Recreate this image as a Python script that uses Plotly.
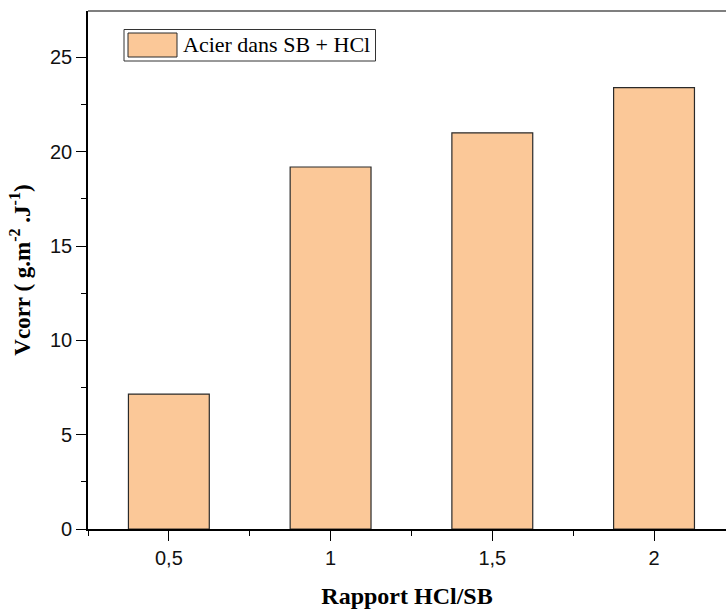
import plotly.graph_objects as go

categories = ["0,5", "1", "1,5", "2"]
vcorr = [7.15, 19.19, 21.0, 23.4]
series_name = "Acier dans SB + HCl"
y_ticks = [0, 5, 10, 15, 20, 25]

x_idx = list(range(len(categories)))

fig = go.Figure()
fig.add_trace(go.Bar(
    x=x_idx, y=vcorr, width=0.5, name=series_name,
    marker=dict(color="#FBC898", line=dict(color="#2a2a2a", width=1.2)),
    showlegend=False,
))

# top frame line (gray)
fig.add_shape(type="line", xref="paper", yref="paper", x0=0, x1=1, y0=1, y1=1,
              line=dict(color="#555", width=1.5))

# custom legend (box, swatch, text)
fig.add_shape(type="rect", xref="paper", yref="paper",
              x0=(124-88)/638, x1=(375.5-88)/638, y0=(529-61)/518, y1=(529-29.5)/518,
              line=dict(color="#333", width=1), fillcolor="white")
fig.add_shape(type="rect", xref="paper", yref="paper",
              x0=(128-88)/638, x1=(177-88)/638, y0=(529-57)/518, y1=(529-33)/518,
              line=dict(color="#2a2a2a", width=1), fillcolor="#FBC898")
fig.add_annotation(xref="paper", yref="paper", x=(181-88)/638, y=(529-45)/518,
                   text=series_name, showarrow=False, xanchor="left", yanchor="middle",
                   font=dict(family="Liberation Serif", size=22, color="black"))

fig.update_layout(
    width=726, height=609,
    margin=dict(l=88, r=0, t=11, b=80),
    plot_bgcolor="white", paper_bgcolor="white",
    font=dict(family="Liberation Sans", size=20, color="black"),
    xaxis=dict(
        range=[-0.5, 3.445],
        tickmode="array", tickvals=x_idx, ticktext=categories,
        ticks="outside", ticklen=10, tickwidth=1.3, tickcolor="black",
        minor=dict(tickmode="array", tickvals=[-0.5, 0.5, 1.5, 2.5, 3.5],
                   ticks="outside", ticklen=5, tickwidth=1.3, tickcolor="black"),
        showline=True, linecolor="black", linewidth=1.6,
        showgrid=False, zeroline=False,
        tickfont=dict(family="Liberation Sans", size=20, color="#111"),
        title=dict(text="<b>Rapport HCl/SB</b>", standoff=23,
                   font=dict(family="Liberation Serif", size=24)),
    ),
    yaxis=dict(
        range=[0, 27.46],
        tickmode="array", tickvals=y_ticks,
        ticks="outside", ticklen=10, tickwidth=1.3, tickcolor="black",
        minor=dict(dtick=2.5, tick0=0, ticks="outside", ticklen=5, tickwidth=1.3, tickcolor="black"),
        showline=True, linecolor="black", linewidth=1.6,
        showgrid=False, zeroline=False,
        tickfont=dict(family="Liberation Sans", size=20, color="#111"),
        title=dict(text="<b>Vcorr ( g.m<sup>-2</sup> .J<sup>-1</sup>)</b>", standoff=13,
                   font=dict(family="Liberation Serif", size=23)),
    ),
)

fig.write_html("out.html")
